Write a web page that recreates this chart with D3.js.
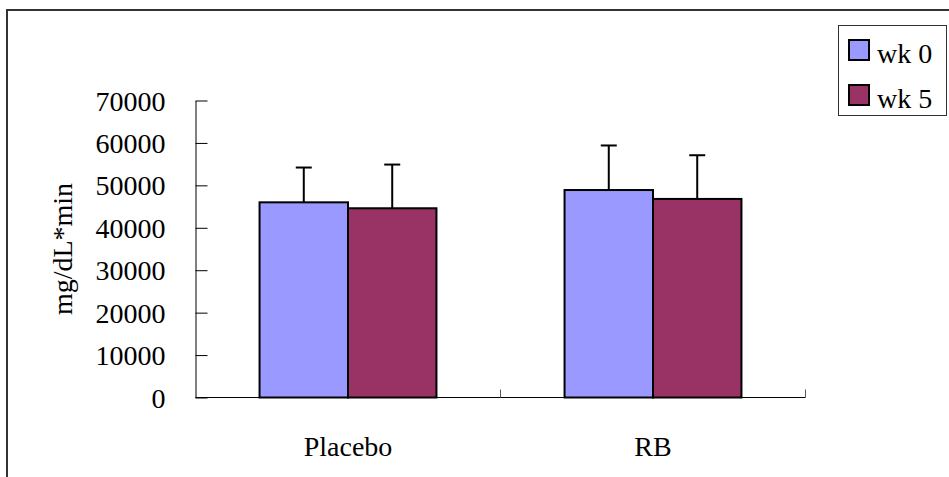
<!DOCTYPE html>
<meta charset="utf-8">
<style>
  body { margin: 0; background: #fff; }
  text { font-family: "Liberation Serif", "DejaVu Serif", serif; fill: #000; }
</style>
<svg width="949" height="477"></svg>
<script src="https://d3js.org/d3.v7.min.js"></script>
<script>

var categories = ["Placebo", "RB"];
var series = ["wk 0", "wk 5"];
var colors = ["#9999FF", "#993366"];
// mean and SD (upper error bar) per category, per series
var wk0 = [46000, 48900];
var wk5 = [44600, 46800];
var wk0Err = [8200, 10500];
var wk5Err = [10300, 10300];
var yTicks = [0, 10000, 20000, 30000, 40000, 50000, 60000, 70000];

var svg = d3.select("svg");

// outer frame (chart area border, cut off right/bottom)
svg.append("rect")
    .attr("x", 7).attr("y", 10)
    .attr("width", 1000).attr("height", 600)
    .attr("fill", "none")
    .attr("stroke", "#333")
    .attr("stroke-width", 2);

var plotLeft = 195.5, plotRight = 805.5, plotTop = 100.5, plotBottom = 397.5;

var x = d3.scaleBand().domain(categories).range([plotLeft, plotRight]);
var inner = d3.scaleBand().domain(series)
    .range([x.bandwidth() * 0.21, x.bandwidth() * 0.79]);
var y = d3.scaleLinear().domain([0, 70000]).range([plotBottom, plotTop]);

var rows = categories.map(function(c, i) {
  return [
    { cat: c, s: series[0], v: wk0[i], e: wk0Err[i], color: colors[0] },
    { cat: c, s: series[1], v: wk5[i], e: wk5Err[i], color: colors[1] }
  ];
});
var data = [].concat.apply([], rows);

// y axis
var yAxis = svg.append("g")
    .attr("transform", "translate(" + plotLeft + ",0)")
    .call(d3.axisLeft(y).tickValues(yTicks).tickFormat(d3.format("d"))
      .tickSizeInner(-12).tickSizeOuter(0).tickPadding(30));
yAxis.select(".domain").attr("stroke", "#000");
yAxis.selectAll(".tick line").attr("stroke", "#000");
yAxis.selectAll("text")
    .attr("font-family", "Liberation Serif")
    .attr("font-size", 28)
    .attr("fill", "#000")
    .attr("dy", "0.34em");

// x axis line and inside ticks at category boundaries
svg.append("line")
    .attr("x1", plotLeft).attr("x2", plotRight)
    .attr("y1", plotBottom).attr("y2", plotBottom)
    .attr("stroke", "#000");
svg.selectAll(".xtick")
    .data(categories)
    .enter().append("line")
    .attr("x1", function(d) { return x(d) + x.bandwidth(); })
    .attr("x2", function(d) { return x(d) + x.bandwidth(); })
    .attr("y1", plotBottom).attr("y2", plotBottom - 8)
    .attr("stroke", "#555");

svg.selectAll(".xlabel")
    .data(categories)
    .enter().append("text")
    .attr("x", function(d) { return x(d) + x.bandwidth() / 2; })
    .attr("y", 456)
    .attr("text-anchor", "middle")
    .attr("font-size", 28)
    .text(function(d) { return d; });

// y label
svg.append("text")
    .attr("transform", "translate(72," + (plotTop + plotBottom) / 2 + ") rotate(-90)")
    .attr("text-anchor", "middle")
    .attr("font-size", 28)
    .text("mg/dL*min");

// error bars (drawn first so bars cover the stem base)
var err = svg.selectAll(".err")
    .data(data)
    .enter().append("g");
err.append("line")
    .attr("x1", function(d) { return x(d.cat) + inner(d.s) + inner.bandwidth() / 2; })
    .attr("x2", function(d) { return x(d.cat) + inner(d.s) + inner.bandwidth() / 2; })
    .attr("y1", function(d) { return y(d.v); })
    .attr("y2", function(d) { return y(d.v + d.e); })
    .attr("stroke", "#000").attr("stroke-width", 2);
err.append("line")
    .attr("x1", function(d) { return x(d.cat) + inner(d.s) + inner.bandwidth() / 2 - 8; })
    .attr("x2", function(d) { return x(d.cat) + inner(d.s) + inner.bandwidth() / 2 + 8; })
    .attr("y1", function(d) { return y(d.v + d.e); })
    .attr("y2", function(d) { return y(d.v + d.e); })
    .attr("stroke", "#000").attr("stroke-width", 2);

// bars
svg.selectAll(".bar")
    .data(data)
    .enter().append("rect")
    .attr("x", function(d) { return x(d.cat) + inner(d.s); })
    .attr("y", function(d) { return y(d.v); })
    .attr("width", inner.bandwidth())
    .attr("height", function(d) { return plotBottom - y(d.v); })
    .attr("fill", function(d) { return d.color; })
    .attr("stroke", "#000")
    .attr("stroke-width", 2);

// legend
var legend = svg.append("g");
legend.append("rect")
    .attr("x", 838.5).attr("y", 25.5)
    .attr("width", 108).attr("height", 90)
    .attr("fill", "#fff")
    .attr("stroke", "#333");
var item = legend.selectAll(".item")
    .data(series)
    .enter().append("g")
    .attr("transform", function(d, i) { return "translate(0," + (i * 45) + ")"; });
item.append("rect")
    .attr("x", 849).attr("y", 40)
    .attr("width", 20).attr("height", 20)
    .attr("fill", function(d, i) { return colors[i]; })
    .attr("stroke", "#000")
    .attr("stroke-width", 2);
item.append("text")
    .attr("x", 877).attr("y", 63)
    .attr("font-size", 28)
    .text(function(d) { return d; });

</script>
